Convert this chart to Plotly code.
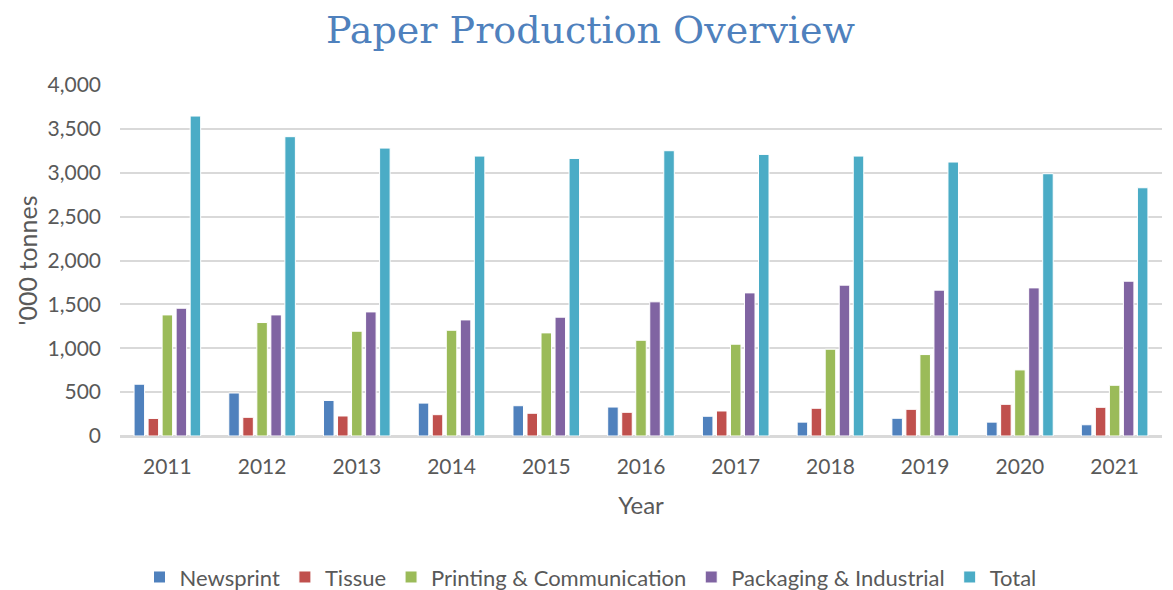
import plotly.graph_objects as go

years = ["2011", "2012", "2013", "2014", "2015", "2016", "2017", "2018", "2019", "2020", "2021"]
newsprint = [590, 490, 405, 375, 345, 330, 225, 158, 202, 158, 128]
tissue = [200, 213, 228, 243, 259, 270, 285, 316, 304, 361, 327]
printing = [1380, 1293, 1194, 1205, 1175, 1091, 1046, 989, 928, 753, 578]
packaging = [1456, 1380, 1414, 1323, 1354, 1529, 1631, 1719, 1662, 1688, 1764]
total = [3646, 3411, 3281, 3190, 3163, 3251, 3209, 3190, 3122, 2989, 2829]

series = [
    ("Newsprint", newsprint, "#4F81BD"),
    ("Tissue", tissue, "#C0504D"),
    ("Printing & Communication", printing, "#9BBB59"),
    ("Packaging & Industrial", packaging, "#8064A2"),
    ("Total", total, "#4BACC6"),
]

fig = go.Figure()
for name, vals, color in series:
    fig.add_trace(go.Bar(
        x=years, y=vals, name=name,
        marker=dict(color=color, line=dict(color="white", width=1)),
    ))

# page body has an 8px margin, so the figure is a bit smaller than the window
fig.update_layout(
    template="plotly_white",
    width=1165, height=582,
    barmode="group", bargap=0.26, bargroupgap=0.25,
    font=dict(family="Lato, 'Open Sans', sans-serif", color="#595959", size=21),
    title=dict(text="Paper Production Overview", x=0.5, xanchor="center",
               yref="container", y=0.962, yanchor="middle",
               font=dict(family="'DejaVu Serif', serif", size=38, color="#4F81BD")),
    margin=dict(l=112, r=11, t=77, b=154),
    plot_bgcolor="white", paper_bgcolor="white",
    legend=dict(orientation="h", xref="container", x=0.5, xanchor="center",
                yref="container", y=0.022, yanchor="middle",
                font=dict(size=22, color="#595959"), itemwidth=30, traceorder="normal"),
)
fig.update_xaxes(
    title=dict(text="Year", font=dict(size=24, color="#595959"), standoff=20),
    showgrid=False, showline=True, linecolor="#D9D9D9", linewidth=2,
    ticklabelstandoff=11, tickfont=dict(size=21, color="#595959"),
)
fig.update_yaxes(
    title=dict(text="'000 tonnes", font=dict(size=25, color="#595959"), standoff=2),
    range=[0, 4000], dtick=500, tickformat=",",
    showgrid=True, gridcolor="#D9D9D9", gridwidth=2,
    zeroline=True, zerolinecolor="#D9D9D9", zerolinewidth=2,
    tickfont=dict(size=21, color="#595959"), ticklabelstandoff=18,
)

fig.write_html("out.html")
